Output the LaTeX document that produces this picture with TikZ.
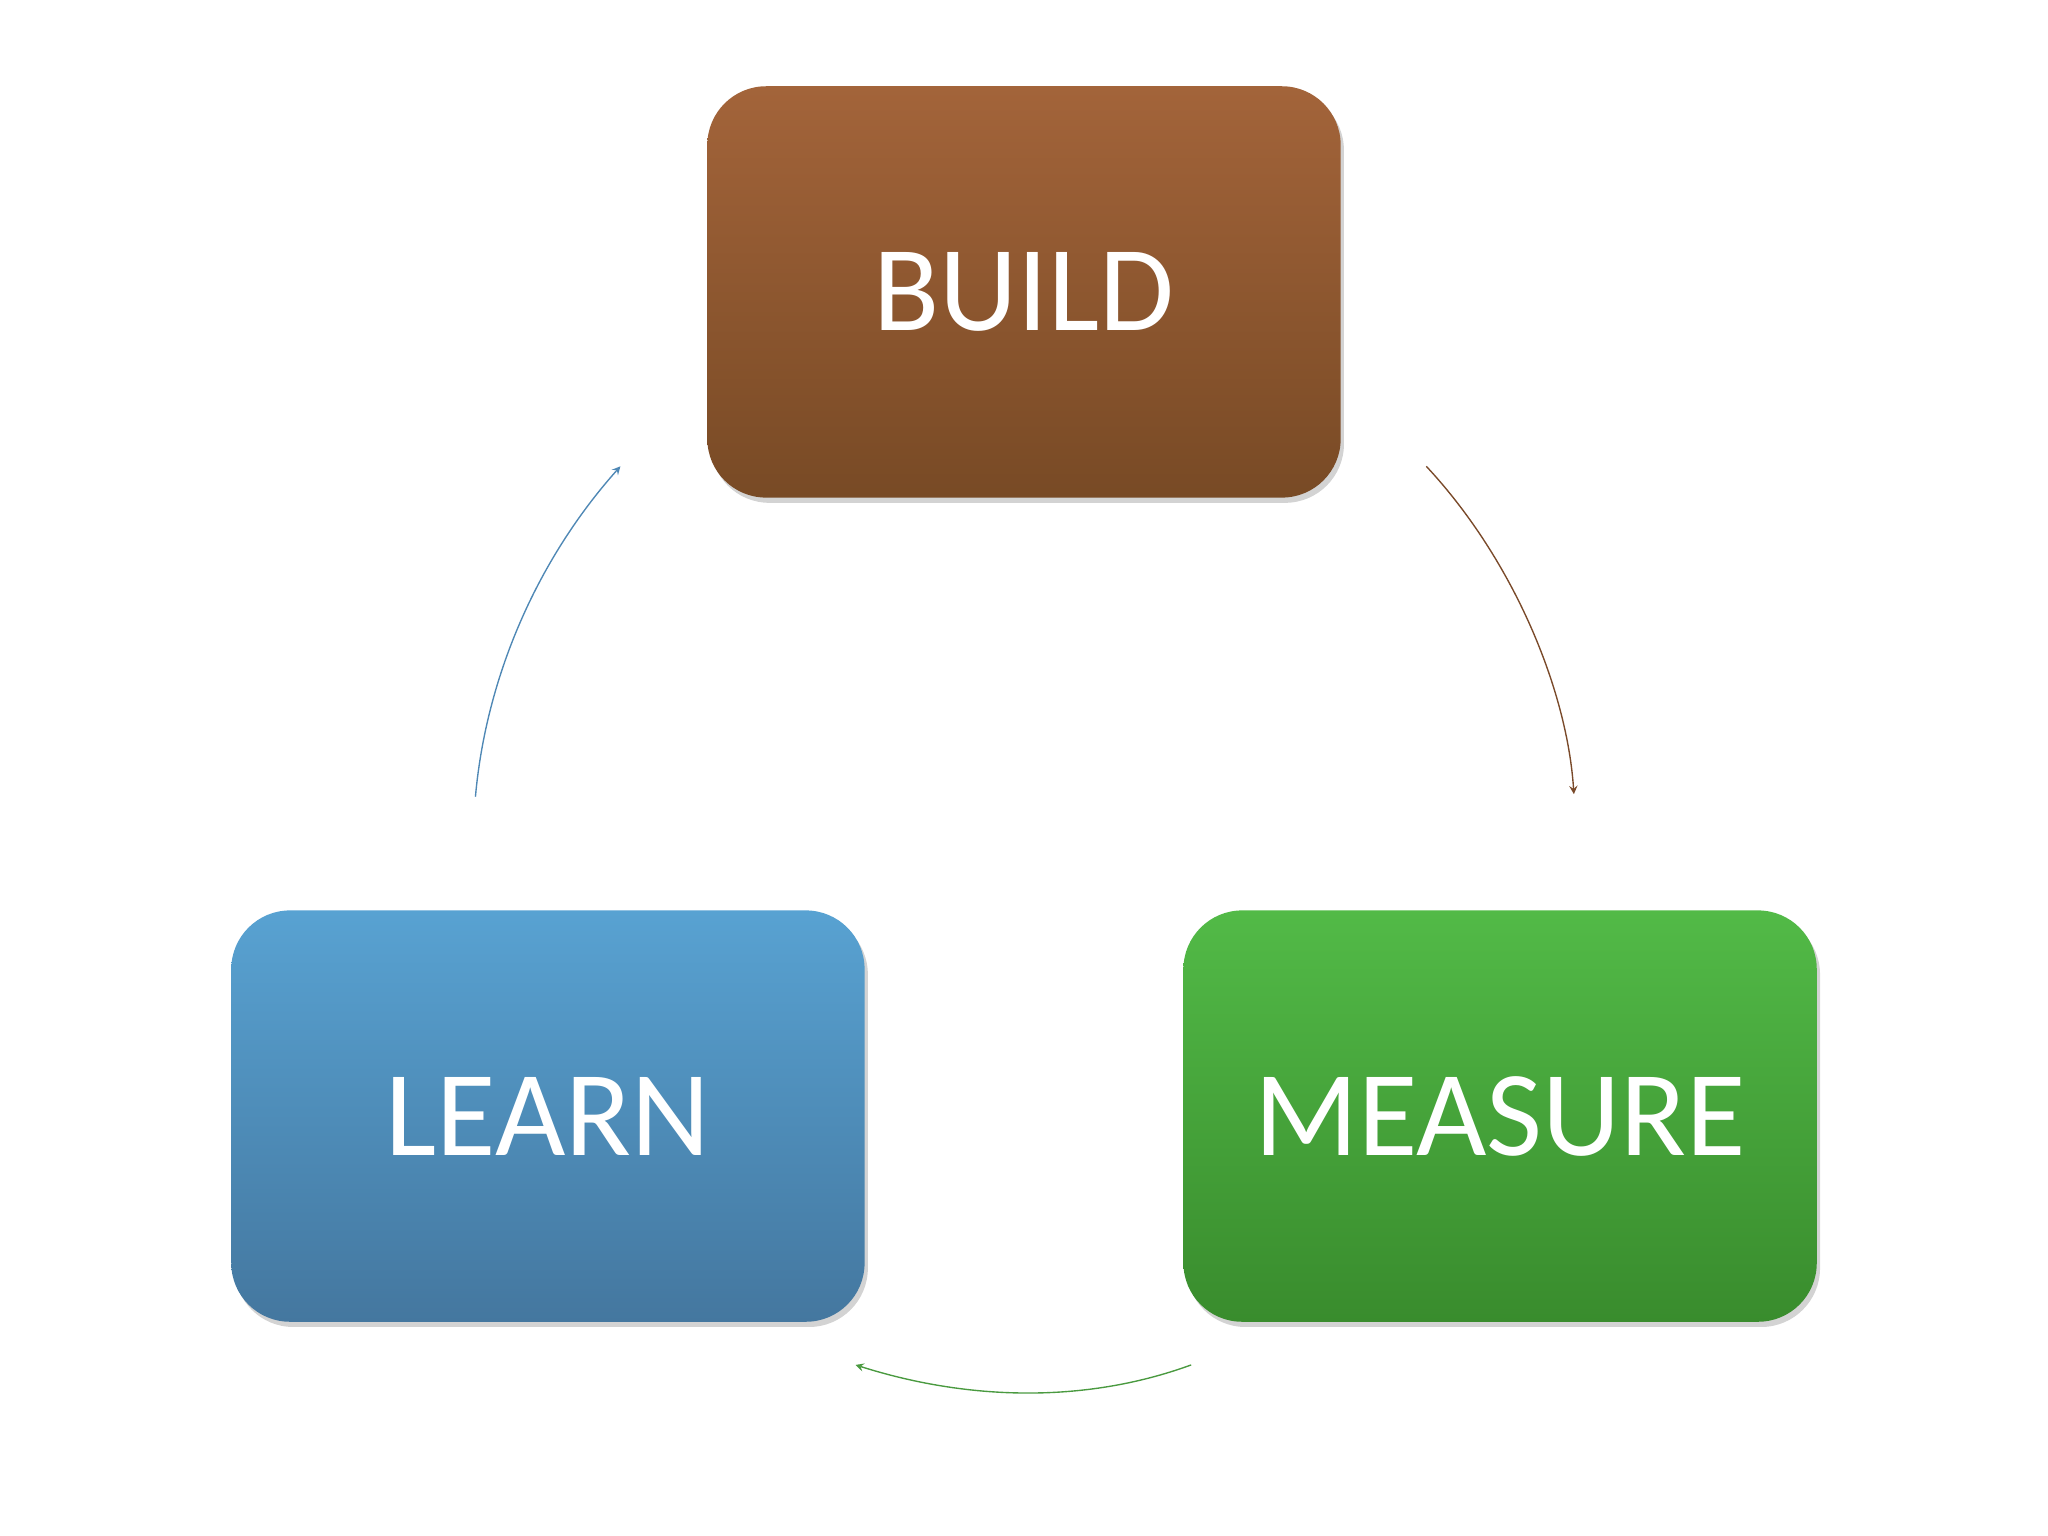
\documentclass[tikz,border=0pt]{standalone}
\usepackage{fontspec}
\setmainfont{Carlito}
\usetikzlibrary{shadows}
\definecolor{bT}{HTML}{A3643A}\definecolor{bB}{HTML}{784A25}
\definecolor{lT}{HTML}{58A2D2}\definecolor{lB}{HTML}{44779F}
\definecolor{mT}{HTML}{52BA47}\definecolor{mB}{HTML}{398C2D}
\definecolor{bA}{HTML}{7A4A2A}\definecolor{lA}{HTML}{4F88B5}\definecolor{mA}{HTML}{4A9A40}
\begin{document}
\begin{tikzpicture}[x=0.02cm,y=-0.02cm,
 box/.style={rounded corners=0.9cm,minimum width=9.7cm,minimum height=6.3cm,text=white,
   font=\fontsize{53}{60}\selectfont,drop shadow={opacity=0.35,shadow xshift=0.05cm,shadow yshift=-0.08cm}},
 arr/.style={->,>=stealth,line width=0.6pt}]
\useasboundingbox (0,0) rectangle (1568,1176);
\node[box,top color=bT,bottom color=bB] (build) at (784,223.5) {BUILD};
\node[box,top color=lT,bottom color=lB] (learn) at (419.5,854.5) {LEARN};
\node[box,top color=mT,bottom color=mB] (measure) at (1148.5,854.5) {MEASURE};
\coordinate (b1) at (1092,357); \coordinate (m1) at (1205,608);
\coordinate (l1) at (364,610); \coordinate (b2) at (475,357);
\coordinate (m2) at (912,1045); \coordinate (l2) at (655,1045);
\draw[arr,bA] (b1) .. controls (1160,430) and (1200,530) .. (m1);
\draw[arr,lA] (l1) .. controls (372,520) and (410,430) .. (b2);
\draw[arr,mA] (m2) .. controls (830,1075) and (740,1072) .. (l2);
\end{tikzpicture}
\end{document}
